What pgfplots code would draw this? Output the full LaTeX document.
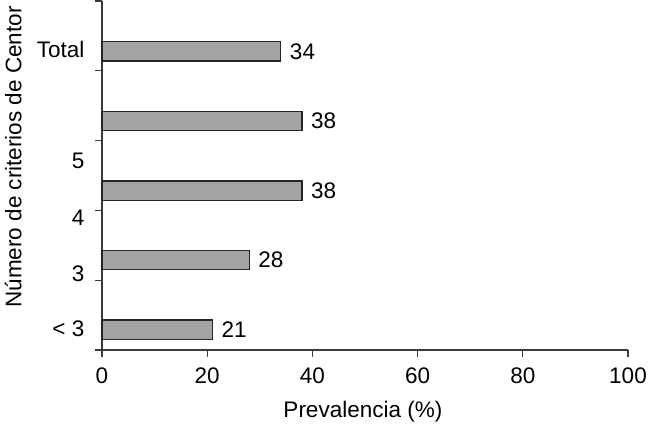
\documentclass[border=0pt]{standalone}
\usepackage{pgfplots}
\pgfplotsset{compat=1.18}
\usepackage{fontspec}
\setmainfont{Liberation Sans}
\definecolor{barfill}{HTML}{A3A3A3}
\definecolor{axcol}{HTML}{3A3A3A}
\begin{document}
\fontsize{22.5bp}{26bp}\selectfont
\begin{tikzpicture}
\begin{axis}[
  at={(102bp,76bp)}, anchor=south west,
  scale only axis, width=526bp, height=349bp,
  xmin=0, xmax=100, ymin=0, ymax=5,
  axis x line*=bottom, axis y line*=left,
  axis line style={axcol, line width=1.3bp, -},
  xtick={0,20,...,100}, ytick={0,1,...,5}, yticklabels={,,,,,},
  tick align=outside, major tick length=7bp,
  tick style={axcol, line width=1.3bp},
  xticklabel style={yshift=-3bp},
  /pgf/number format/assume math mode=true,
  extra y ticks={0.30,1.09,1.89,2.71,4.31},
  extra y tick labels={{< 3},3,4,5,Total},
  extra y tick style={major tick length=0pt, yticklabel style={xshift=-10bp}},
  xlabel={Prevalencia (\%)},
  xlabel style={at={(axis description cs:0.496,-0.178)}, anchor=center},
  ylabel={Número de criterios de Centor},
  ylabel style={at={(axis description cs:-0.169,0.553)}, anchor=center},
  clip=false,
]
\addplot[xbar, bar width=19.5bp, fill=barfill, draw=black!85, line width=1.3bp,
  point meta=x, nodes near coords, nodes near coords align=horizontal,
  every node near coord/.append style={black, xshift=1bp}]
  coordinates {(21,0.29) (28,1.29) (38,2.28) (38,3.28) (34,4.28)};
\end{axis}
\pgfresetboundingbox
\path[use as bounding box] (0,0) rectangle (648bp,426bp);
\end{tikzpicture}
\end{document}
